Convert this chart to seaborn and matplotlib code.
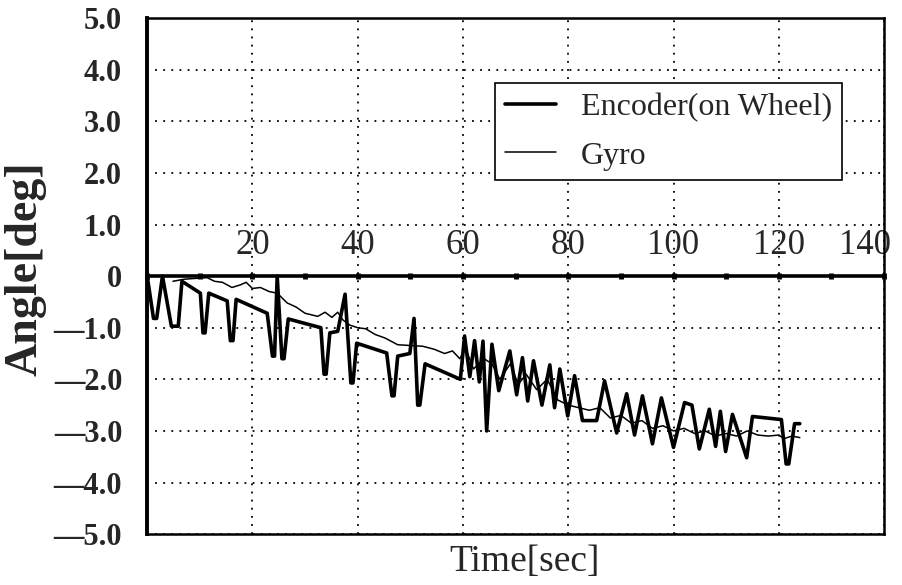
import pandas as pd
import matplotlib
matplotlib.use('Agg')
import matplotlib.pyplot as plt
import matplotlib.ticker as ticker
import matplotlib.transforms as mtransforms
import seaborn as sns

# Encoder (on wheel) trace
enc_t = [0, 1.2, 1.8, 2.9, 4.6, 5.9, 6.6, 10.1, 10.6, 11.0, 11.7, 15.2, 15.8, 16.3, 16.9, 22.8, 23.8, 24.2, 24.7,
         25.6, 26.0, 26.8, 33.0, 33.6, 34.0, 34.7, 36.2, 37.6, 38.7, 39.1, 39.8, 45.5, 46.5, 46.9, 47.6, 49.9, 50.7,
         51.4, 51.8, 52.8, 59.5, 60.3, 61.3, 62.2, 63.1, 63.8, 64.5, 65.5, 66.8, 68.9, 70.2, 71.3,
         72.3, 73.4, 75.0, 76.5, 77.4, 78.4, 79.9, 81.2, 82.7, 85.4, 86.9, 89.2, 91.1, 92.6,
         94.1, 96.0, 97.7, 100.0, 102.1, 103.5, 104.9, 106.8, 108.0, 108.9, 109.9, 111.2,
         113.9, 115.0, 120.5, 121.4, 121.9, 123.0, 124.0]
enc_v = [0, -0.82, -0.82, 0, -0.97, -0.97, -0.1, -0.33, -1.1, -1.1, -0.33, -0.48, -1.25, -1.25, -0.45, -0.72,
         -1.55, -1.55, 0.0, -1.6, -1.6, -0.83, -1.0, -1.9, -1.9, -1.1, -1.07, -0.35, -2.07, -2.07, -1.3,
         -1.49, -2.32, -2.32, -1.55, -1.5, -0.82, -2.5, -2.5, -1.7, -2.0, -1.16, -1.95, -1.25, -2.05, -1.26,
         -3.0, -1.32, -2.22, -1.45, -2.3, -1.58, -2.42, -1.64, -2.5, -1.72, -2.55, -1.8, -2.71, -1.93,
         -2.8, -2.8, -2.03, -3.04, -2.28, -3.08, -2.32, -3.25, -2.36, -3.32, -2.45, -2.5, -3.35, -2.58,
         -3.3, -2.62, -3.4, -2.68, -3.52, -2.72, -2.78, -3.64, -3.64, -2.86, -2.86]

# Gyro trace
gyro_t = [4.9, 7.0, 9.7, 11.4, 12.8, 14.3, 16.1, 17.7, 18.8, 20.0, 21.5, 23.2, 24.7, 26.6, 28.3,
          30.0, 32.4, 33.8, 35.1, 36.2, 37.2, 38.5, 40.0, 41.5, 43.3, 45.2, 47.6, 52.4, 54.6,
          56.5, 58.0, 59.4, 60.5, 62.0, 64.0, 65.5, 67.0, 69.0, 70.5, 72.0, 74.0, 76.0, 78.0,
          80.0, 82.0, 84.0, 86.0, 88.0, 90.0, 92.0, 94.0, 96.0, 98.0, 100.0, 102.0, 104.0,
          106.0, 108.0, 110.0, 112.0, 114.0, 116.0, 118.0, 120.0, 121.0, 122.5, 124.0]
gyro_v = [-0.1, -0.06, -0.04, -0.03, -0.1, -0.12, -0.22, -0.17, -0.12, -0.24, -0.22, -0.3, -0.33, -0.52, -0.6,
          -0.72, -0.78, -0.7, -0.8, -0.7, -0.85, -0.95, -1.0, -1.02, -1.13, -1.2, -1.33, -1.36, -1.42,
          -1.5, -1.45, -1.6, -1.4, -1.8, -1.6, -1.7, -2.0, -1.7, -2.1, -1.9, -2.2, -2.0, -2.4,
          -2.5, -2.55, -2.6, -2.55, -2.75, -2.7, -2.85, -2.8, -2.95, -2.9, -3.0, -2.95, -3.05,
          -3.0, -3.1, -3.05, -3.1, -3.0, -3.08, -3.1, -3.08, -3.15, -3.1, -3.13]

x_ticks = [20, 40, 60, 80, 100, 120, 140]
y_ticks = [5, 4, 3, 2, 1, 0, -1, -2, -3, -4, -5]
y_labels = ['5.0', '4.0', '3.0', '2.0', '1.0', '0',
            '\u20141.0', '\u20142.0', '\u20143.0', '\u20144.0', '\u20145.0']

enc = pd.DataFrame({'t': enc_t, 'v': enc_v})
gyro = pd.DataFrame({'t': gyro_t, 'v': gyro_v})

sns.set_style('white')
plt.rcParams['font.family'] = ['Liberation Serif', 'DejaVu Serif']

fig = plt.figure(figsize=(9.03, 5.85), dpi=100)
ax = fig.add_axes([0.163, 0.087, 0.816, 0.882])

sns.lineplot(data=enc, x='t', y='v', ax=ax, color='black', linewidth=2.6,
             estimator=None, sort=False, label='Encoder(on Wheel)')
sns.lineplot(data=gyro, x='t', y='v', ax=ax, color='black', linewidth=1.1,
             estimator=None, sort=False, label='Gyro')

ax.set_xlim(0, 140)
ax.set_ylim(-5, 5)

# grid + frame
ax.set_xticks(x_ticks)
ax.set_xticklabels([])
ax.tick_params(axis='x', length=0)
ax.set_yticks(y_ticks)
ax.set_yticklabels(y_labels, fontsize=22, fontweight='bold')
ax.tick_params(axis='y', direction='in', length=3, width=1.5, pad=18)
ax.grid(True, color='black', linestyle=(0, (1, 3.5)), linewidth=1.3)
for side in ['top', 'right', 'bottom']:
    ax.spines[side].set_linewidth(1.8)
    ax.spines[side].set_color('black')
ax.spines['left'].set_linewidth(2.8)
ax.spines['left'].set_color('black')

# time axis drawn along y = 0, labels above it
sec = ax.secondary_xaxis(0.5)
sec.set_xticks(x_ticks)
sec.set_xticklabels([str(v) for v in x_ticks], fontsize=25)
sec.xaxis.set_minor_locator(ticker.MultipleLocator(10))
sec.tick_params(which='both', direction='inout', length=5, width=3.5, pad=8, color='black')
for s in sec.spines.values():
    s.set_linewidth(2.6)
    s.set_color('black')
# last label sits against the right edge in the original
last = sec.get_xticklabels()[-1]
last.set_transform(last.get_transform() + mtransforms.ScaledTranslation(-14 / 72, 0, fig.dpi_scale_trans))

ax.set_xlabel('Time[sec]', fontsize=27)
ax.xaxis.set_label_coords(0.512, -0.02)
ax.set_ylabel('Angle[deg]', fontsize=33, fontweight='bold')
ax.yaxis.set_label_coords(-0.136, 0.514)

leg = ax.legend(loc='upper left', bbox_to_anchor=(0.472, 0.874), borderaxespad=0,
                fontsize=23, frameon=True, fancybox=False, edgecolor='black',
                framealpha=1, handlelength=1.6, handletextpad=0.8,
                borderpad=0.3, labelspacing=0.6)
leg.get_frame().set_linewidth(1.2)

fig.savefig('out.png', dpi=100)
